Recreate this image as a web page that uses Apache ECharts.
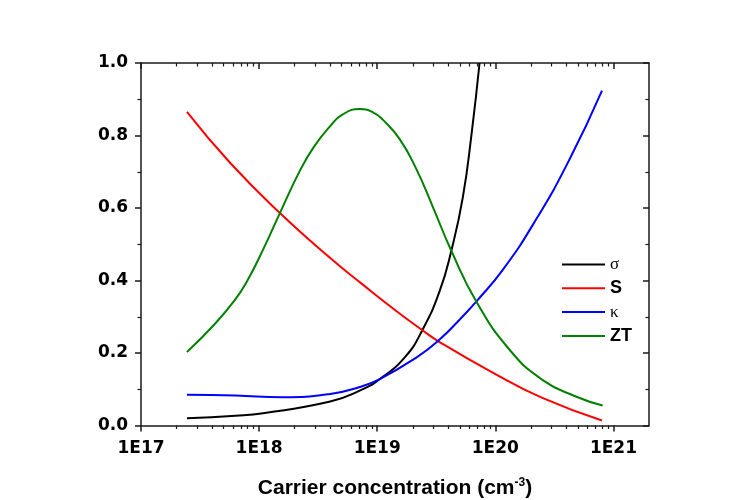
<!DOCTYPE html>
<html>
<head>
<meta charset="utf-8">
<script src="https://cdn.jsdelivr.net/npm/echarts@6/dist/echarts.min.js"></script>
<style>
  html, body { margin: 0; padding: 0; background: #fff; }
  #chart { width: 737px; height: 500px; }
</style>
</head>
<body>
<div id="chart"></div>
<script>
// Carrier concentration (cm^-3) and normalised transport quantities
const sigmaN = [2.45e17, 6.3e17, 1.08e18, 4.0e18, 7.1e18, 1.05e19, 1.71e19, 2.41e19, 3.37e19, 4.24e19, 5.31e19, 6.31e19, 7.35e19];
const sigmaV = [0.020, 0.027, 0.034, 0.066, 0.096, 0.128, 0.188, 0.263, 0.370, 0.482, 0.630, 0.808, 1.000];

const seebeckN = [2.45e17, 5.7e17, 1.5e18, 4.0e18, 7.6e18, 1.45e19, 2.41e19, 3.27e19, 9.5e19, 2.5e20, 8.0e20];
const seebeckV = [0.865, 0.724, 0.586, 0.462, 0.388, 0.316, 0.263, 0.233, 0.146, 0.076, 0.014];

const kappaN = [2.45e17, 6.3e17, 1.58e18, 4.0e18, 7.1e18, 1.05e19, 2.0e19, 3.27e19, 5.85e19, 6.9e19, 1.16e20, 2.21e20, 4.23e20, 8.0e20];
const kappaV = [0.085, 0.083, 0.078, 0.087, 0.106, 0.128, 0.181, 0.233, 0.316, 0.342, 0.430, 0.568, 0.733, 0.924];

const ztN = [2.45e17, 4.1e17, 6.2e17, 7.9e17, 1.08e18, 1.5e18, 2.2e18, 2.9e18, 4.0e18, 5.1e18, 7.1e18, 9.2e18, 1.12e19, 1.55e19, 2.14e19, 2.95e19, 4.24e19, 6.9e19, 1.32e20, 2.5e20, 4.8e20, 8.1e20];
const ztV = [0.203, 0.276, 0.345, 0.398, 0.485, 0.586, 0.701, 0.768, 0.826, 0.858, 0.873, 0.864, 0.843, 0.790, 0.708, 0.604, 0.482, 0.342, 0.209, 0.126, 0.080, 0.055];

const seriesNames = ['σ', 'S', 'κ', 'ZT'];
const seriesColors = ['#000000', '#ff0000', '#0000ff', '#008000'];

// Decade ticks with labels, and the 2..9 minor ticks in between
const decadeTicks = [1e17, 1e18, 1e19, 1e20, 1e21];
const minorMultipliers = [2, 3, 4, 5, 6, 7, 8, 9];
const xMin = 1e17, xMax = 2e21;

const minorTicks = [];
decadeTicks.forEach(d => minorMultipliers.forEach(m => {
  const v = m * d;
  if (v <= xMax) minorTicks.push(v);
}));

const pairs = (xs, ys) => xs.map((x, i) => [x, ys[i]]);
const FONT = '"Liberation Sans", Arial, sans-serif';
const TICK_FONT = '"DejaVu Sans", "Liberation Sans", sans-serif';
const AXIS_COLOR = '#1a1a1a';

function logAxis(opts) {
  return Object.assign({
    type: 'log',
    logBase: 10,
    min: xMin,
    max: xMax,
    splitLine: { show: false },
    axisLine: { show: true, lineStyle: { color: AXIS_COLOR, width: 1.5 } },
    axisLabel: { show: false },
    axisTick: { show: false },
    minorTick: { show: false }
  }, opts);
}

const chart = echarts.init(document.getElementById('chart'), null, { renderer: 'canvas' });

chart.setOption({
  backgroundColor: '#ffffff',
  animation: false,
  grid: { left: 141, top: 63, width: 508, height: 362.5, containLabel: false, outerBoundsMode: 'none' },
  legend: {
    orient: 'vertical',
    left: 562,
    top: 256,
    padding: 0,
    itemGap: 6.3,
    itemWidth: 43,
    itemHeight: 2,
    icon: 'rect',
    data: seriesNames,
    formatter: name => (name === 'σ' || name === 'κ') ? '{g|' + name + '}' : '{b|' + name + '}',
    textStyle: {
      padding: [0, 0, 0, 0],
      rich: {
        g: { fontFamily: '"Liberation Serif", "DejaVu Serif", serif', fontSize: 17, color: '#000', lineHeight: 18 },
        b: { fontFamily: FONT, fontWeight: 'bold', fontSize: 18, color: '#000', lineHeight: 18 }
      }
    }
  },
  xAxis: [
    logAxis({
      position: 'bottom',
      name: 'Carrier concentration (cm{sup|-3})',
      nameLocation: 'middle',
      nameGap: 51,
      nameTextStyle: {
        fontFamily: FONT, fontWeight: 'bold', fontSize: 21, color: '#000', lineHeight: 24,
        rich: {
          sup: { fontFamily: FONT, fontWeight: 'bold', fontSize: 12, color: '#000', lineHeight: 12, verticalAlign: 'top' }
        }
      },
      axisTick: { show: true, inside: false, length: 6, customValues: decadeTicks, lineStyle: { color: AXIS_COLOR, width: 1.5 } },
      axisLabel: {
        show: true, customValues: decadeTicks, margin: 15,
        fontFamily: TICK_FONT, fontWeight: 'bold', fontSize: 17, color: '#000',
        formatter: v => '1E' + Math.round(Math.log10(v))
      }
    }),
    logAxis({
      position: 'bottom',
      axisLine: { show: false },
      axisTick: { show: true, inside: false, length: 3.5, customValues: minorTicks, lineStyle: { color: AXIS_COLOR, width: 1.2 } }
    }),
    logAxis({
      position: 'top',
      axisTick: { show: true, inside: true, length: 6, customValues: decadeTicks, lineStyle: { color: AXIS_COLOR, width: 1.5 } }
    }),
    logAxis({
      position: 'top',
      axisLine: { show: false },
      axisTick: { show: true, inside: true, length: 3.5, customValues: minorTicks, lineStyle: { color: AXIS_COLOR, width: 1.2 } }
    })
  ],
  yAxis: [
    {
      type: 'value', position: 'left', min: 0, max: 1, interval: 0.2,
      splitLine: { show: false },
      axisLine: { show: true, lineStyle: { color: AXIS_COLOR, width: 1.5 } },
      axisTick: { show: true, inside: false, length: 6, lineStyle: { color: AXIS_COLOR, width: 1.5 } },
      minorTick: { show: true, splitNumber: 2, length: 3.5, lineStyle: { color: AXIS_COLOR, width: 1.2 } },
      axisLabel: {
        margin: 13, fontFamily: TICK_FONT, fontWeight: 'bold', fontSize: 17, color: '#000',
        formatter: v => v.toFixed(1)
      }
    },
    {
      type: 'value', position: 'right', min: 0, max: 1, interval: 0.2,
      splitLine: { show: false },
      axisLine: { show: true, lineStyle: { color: AXIS_COLOR, width: 1.5 } },
      axisTick: { show: true, inside: true, length: 6, lineStyle: { color: AXIS_COLOR, width: 1.5 } },
      minorTick: { show: true, splitNumber: 2, length: 3.5, lineStyle: { color: AXIS_COLOR, width: 1.2 } },
      axisLabel: { show: false }
    }
  ],
  series: [
    [sigmaN, sigmaV], [seebeckN, seebeckV], [kappaN, kappaV], [ztN, ztV]
  ].map(([xs, ys], i) => ({
    name: seriesNames[i],
    type: 'line',
    xAxisIndex: 0,
    yAxisIndex: 0,
    data: pairs(xs, ys),
    showSymbol: false,
    symbol: 'none',
    smooth: 0.5,
    clip: true,
    lineStyle: { color: seriesColors[i], width: 2 },
    itemStyle: { color: seriesColors[i] }
  }))
});
</script>
</body>
</html>
